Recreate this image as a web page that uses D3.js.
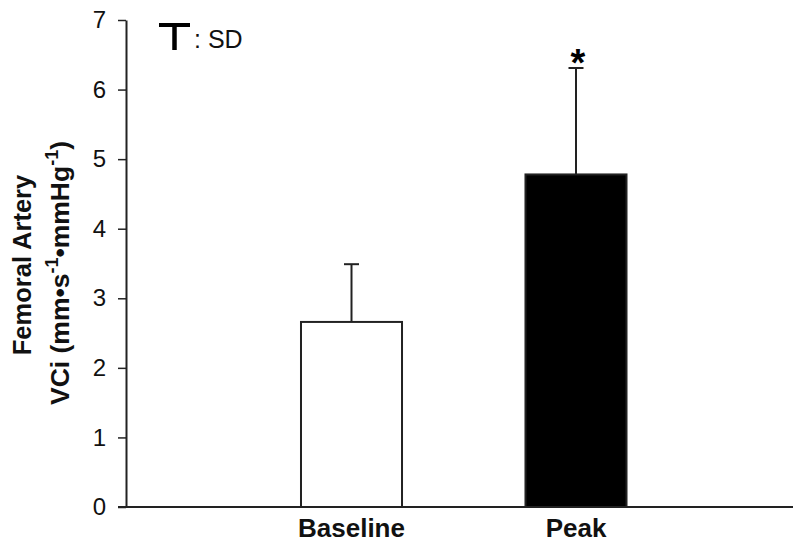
<!DOCTYPE html>
<html><head><meta charset="utf-8">
<script src="https://cdn.jsdelivr.net/npm/d3@7"></script>
<style>body{margin:0;background:#fff}svg{display:block}text{font-family:"Liberation Sans",Arial,sans-serif}</style>
</head><body>
<script>
const categories = ["Baseline", "Peak"];
const means = [2.66, 4.78];
const sds = [0.83, 1.53];
const fills = ["#ffffff", "#000000"];
const yTicks = [0, 1, 2, 3, 4, 5, 6, 7];
const significant = [false, true];

const W = 793, H = 544;
const svg = d3.select("body").append("svg").attr("width", W).attr("height", H);

const y = d3.scaleLinear().domain([0, 7]).range([507, 20]);
const x = d3.scaleBand().domain(categories).range([188.75, 738.75]).paddingInner(0.55).paddingOuter(0.5);

// bars
svg.selectAll("rect.bar").data(categories).join("rect")
  .attr("x", d => x(d)).attr("width", x.bandwidth())
  .attr("y", (d, i) => y(means[i])).attr("height", (d, i) => y(0) - y(means[i]))
  .attr("fill", (d, i) => fills[i]).attr("stroke", "#222").attr("stroke-width", 2);

// error bars
const cx = d => x(d) + x.bandwidth() / 2;
svg.selectAll("line.err").data(categories).join("line")
  .attr("x1", cx).attr("x2", cx)
  .attr("y1", (d, i) => y(means[i])).attr("y2", (d, i) => y(means[i] + sds[i]))
  .attr("stroke", "#222").attr("stroke-width", 2);
svg.selectAll("line.cap").data(categories).join("line")
  .attr("x1", d => cx(d) - 7.5).attr("x2", d => cx(d) + 7.5)
  .attr("y1", (d, i) => y(means[i] + sds[i])).attr("y2", (d, i) => y(means[i] + sds[i]))
  .attr("stroke", "#222").attr("stroke-width", 2);

// asterisk
svg.selectAll("text.sig").data(categories.filter((d, i) => significant[i])).join("text")
  .attr("x", d => cx(d) + 2).attr("y", d => y(means[categories.indexOf(d)] + sds[categories.indexOf(d)]) + 8)
  .attr("text-anchor", "middle").style("font-size", "38px").attr("font-weight", "bold").text("*");

// y axis
const gy = svg.append("g").attr("transform", "translate(126,0)")
  .call(d3.axisLeft(y).tickValues(yTicks).tickFormat(d3.format("d")).tickSize(8).tickPadding(12).tickSizeOuter(0));
gy.select(".domain").attr("stroke", "#222").attr("stroke-width", 2);
gy.selectAll(".tick line").attr("stroke", "#222").attr("stroke-width", 1.5);
gy.selectAll(".tick text").style("font-size", "24px").attr("fill", "#111").style("font-family", "Liberation Sans, Arial, sans-serif");

// x axis line
svg.append("line").attr("x1", 118).attr("x2", 793).attr("y1", y(0)).attr("y2", y(0))
  .attr("stroke", "#222").attr("stroke-width", 2);

// x labels
svg.selectAll("text.xl").data(categories).join("text")
  .attr("x", cx).attr("y", 537).attr("text-anchor", "middle")
  .style("font-size", "26px").attr("font-weight", "bold").attr("fill", "#111").text(d => d);

// y label
svg.append("text").attr("transform", "translate(31,265) rotate(-90)")
  .attr("text-anchor", "middle").style("font-size", "25.5px").attr("font-weight", "bold").attr("fill", "#111")
  .text("Femoral Artery");
const t2 = svg.append("text").attr("transform", "translate(69,273) rotate(-90)")
  .attr("text-anchor", "middle").style("font-size", "26.5px").attr("font-weight", "bold").attr("fill", "#111");
t2.append("tspan").text("VCi (mm•s");
t2.append("tspan").style("font-size", "18px").attr("dy", -11).text("-1");
t2.append("tspan").attr("dy", 11).text("•mmHg");
t2.append("tspan").style("font-size", "18px").attr("dy", -11).text("-1");
t2.append("tspan").attr("dy", 11).text(")");

// legend
svg.append("line").attr("x1", 159).attr("x2", 190).attr("y1", 25).attr("y2", 25).attr("stroke", "#000").attr("stroke-width", 4);
svg.append("line").attr("x1", 174.5).attr("x2", 174.5).attr("y1", 23).attr("y2", 50).attr("stroke", "#000").attr("stroke-width", 4.5);
svg.append("text").attr("x", 194).attr("y", 48).style("font-size", "25px").attr("fill", "#111").text(": SD");
</script>
</body></html>
